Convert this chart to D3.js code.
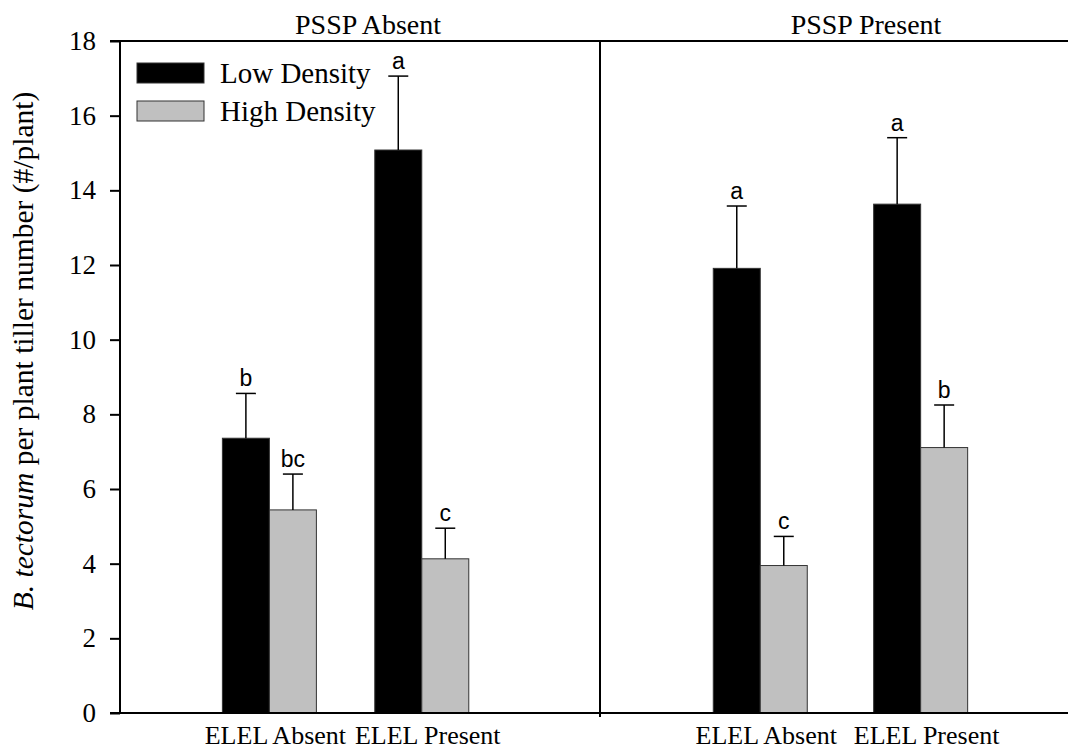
<!DOCTYPE html>
<html>
<head>
<meta charset="utf-8">
<script src="https://cdn.jsdelivr.net/npm/d3@7"></script>
<style>
  html, body { margin: 0; padding: 0; background: #fff; }
  svg { display: block; }
</style>
</head>
<body>
<div id="chart"></div>
<script>
// ---- data ----
const panels = ["PSSP Absent", "PSSP Present"];
const categories = ["ELEL Absent", "ELEL Present"];
const seriesNames = ["Low Density", "High Density"];
// values per panel (panel-major): [PSSP Absent: ELEL Absent, ELEL Present], [PSSP Present: ELEL Absent, ELEL Present]
const lowMeans = [7.36, 15.08, 11.91, 13.63];
const lowErrors = [1.20, 1.98, 1.67, 1.78];
const lowLetters = ["b", "a", "a", "a"];
const highMeans = [5.44, 4.13, 3.95, 7.11];
const highErrors = [0.96, 0.82, 0.78, 1.14];
const highLetters = ["bc", "c", "c", "b"];
const yTicks = [0, 2, 4, 6, 8, 10, 12, 14, 16, 18];

// ---- layout ----
const W = 1068, H = 749;
const mLeft = 120, mRight = 1068, mTop = 41, mBottom = 713;
const divider = 600;
const serif = "'Liberation Serif', 'Times New Roman', Times, serif";
const sans = "'Liberation Sans', Arial, Helvetica, sans-serif";

const svg = d3.select("#chart").append("svg").attr("width", W).attr("height", H);

const y = d3.scaleLinear().domain([0, 18]).range([mBottom, mTop]);

// per-panel category scales
const panelRanges = [[mLeft, divider], [divider, mRight]];
const panelPad = [1.075, 0.959];
const panelAlign = [0.456, 0.521];
const xCat = panels.map((p, i) => d3.scalePoint().domain(categories)
  .range(panelRanges[i]).padding(panelPad[i]).align(panelAlign[i]));
const barW = 47;
const xSeries = d3.scaleBand().domain(seriesNames).range([-barW, barW]).padding(0);
const colors = d3.scaleOrdinal().domain(seriesNames).range(["#000000", "#c0c0c0"]);

// records
const records = [];
panels.forEach((p, pi) => categories.forEach((c, ci) => {
  const k = pi * categories.length + ci;
  records.push({panel: pi, cat: c, series: seriesNames[0], mean: lowMeans[k], err: lowErrors[k], letter: lowLetters[k]});
  records.push({panel: pi, cat: c, series: seriesNames[1], mean: highMeans[k], err: highErrors[k], letter: highLetters[k]});
}));
const bx = d => xCat[d.panel](d.cat) + xSeries(d.series);

// bars
svg.append("g").selectAll("rect").data(records).join("rect")
  .attr("x", bx)
  .attr("width", xSeries.bandwidth())
  .attr("y", d => y(d.mean))
  .attr("height", d => y(0) - y(d.mean))
  .attr("fill", d => colors(d.series))
  .attr("stroke", "#333")
  .attr("stroke-width", 1);

// error bars
const eg = svg.append("g").attr("stroke", "#000").attr("stroke-width", 1.5);
records.forEach(d => {
  const cx = bx(d) + xSeries.bandwidth() / 2;
  eg.append("line").attr("x1", cx).attr("x2", cx).attr("y1", y(d.mean)).attr("y2", y(d.mean + d.err));
  eg.append("line").attr("x1", cx - 10).attr("x2", cx + 10).attr("y1", y(d.mean + d.err)).attr("y2", y(d.mean + d.err));
});

// letters
svg.append("g").selectAll("text").data(records).join("text")
  .attr("x", d => bx(d) + xSeries.bandwidth() / 2)
  .attr("y", d => y(d.mean + d.err) - 7)
  .attr("text-anchor", "middle")
  .style("font-family", sans)
  .style("font-size", "23px")
  .attr("fill", "#000")
  .text(d => d.letter);

// y axis
const yAxis = d3.axisLeft(y).tickValues(yTicks).tickSize(10).tickPadding(14).tickFormat(d3.format("d"));
const ga = svg.append("g").attr("transform", `translate(${mLeft},0)`).call(yAxis);
ga.attr("font-family", null).attr("font-size", null);
ga.select(".domain").attr("stroke-width", 2).attr("d", `M-10,${mTop}H0V${mBottom}H-10`);
ga.selectAll(".tick line").attr("stroke-width", 2);
ga.selectAll(".tick text").style("font-family", serif).style("font-size", "27px").attr("fill", "#000");

// frame lines
svg.append("line").attr("x1", mLeft).attr("x2", mRight).attr("y1", mTop).attr("y2", mTop).attr("stroke", "#000").attr("stroke-width", 2);
svg.append("line").attr("x1", mLeft - 10).attr("x2", mRight).attr("y1", mBottom).attr("y2", mBottom).attr("stroke", "#000").attr("stroke-width", 2);
svg.append("line").attr("x1", divider).attr("x2", divider).attr("y1", mTop).attr("y2", mBottom + 4).attr("stroke", "#000").attr("stroke-width", 2);

// category labels and panel titles
const titleX = [368, 866];
panels.forEach((p, pi) => {
  svg.append("g").selectAll("text").data(categories).join("text")
    .attr("x", c => xCat[pi](c) + 6)
    .attr("y", 744)
    .attr("text-anchor", "middle")
    .style("font-family", serif)
    .style("font-size", "26px")
    .attr("fill", "#000")
    .text(c => c);
  svg.append("text")
    .attr("x", titleX[pi])
    .attr("y", 34)
    .attr("text-anchor", "middle")
    .style("font-family", serif)
    .style("font-size", "28px")
    .attr("fill", "#000")
    .text(p);
});

// legend
const lg = svg.append("g");
seriesNames.forEach((s, i) => {
  const ly = 63 + i * 38;
  lg.append("rect").attr("x", 137).attr("y", ly).attr("width", 67).attr("height", 20)
    .attr("fill", colors(s)).attr("stroke", "#333").attr("stroke-width", 1);
  lg.append("text").attr("x", 220).attr("y", ly + 20)
    .style("font-family", serif).style("font-size", "29px").attr("fill", "#000").text(s);
});

// y label
const yl = svg.append("text")
  .attr("transform", "translate(33,351) rotate(-90)")
  .attr("text-anchor", "middle")
  .style("font-family", serif)
  .style("font-size", "29.5px")
  .attr("fill", "#000");
yl.append("tspan").style("font-style", "italic").text("B. tectorum");
yl.append("tspan").text(" per plant tiller number (#/plant)");
</script>
</body>
</html>
